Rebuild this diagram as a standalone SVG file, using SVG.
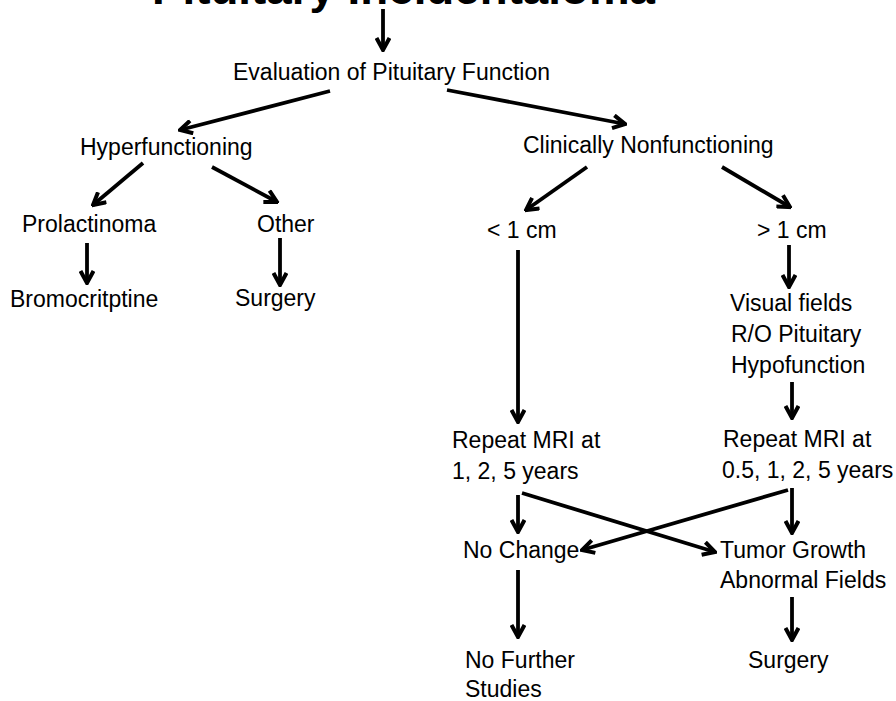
<svg xmlns="http://www.w3.org/2000/svg" width="896" height="701" viewBox="0 0 896 701">
<style>
  .t { font-family: "Liberation Sans", Arial, sans-serif; font-size: 23px; fill: #000; }
  .title { font-family: "Liberation Sans", Arial, sans-serif; font-size: 44px; font-weight: bold; fill: #000; }
  .c line { stroke: #000; stroke-width: 3.8; fill: none; marker-end: url(#ah); }
</style>
<defs>
  <marker id="ah" viewBox="0 0 16 16" refX="14" refY="8" markerWidth="16" markerHeight="16" markerUnits="userSpaceOnUse" orient="auto">
    <path d="M2,1.5 L14,8 L2,14.5" fill="none" stroke="#000" stroke-width="4" stroke-linejoin="miter" stroke-linecap="butt"/>
  </marker>
</defs>
<rect width="896" height="701" fill="#fff"/>
<g id="title"><text class="title" x="152" y="4" textLength="503" lengthAdjust="spacingAndGlyphs">Pituitary Incidentaloma</text></g>
<g id="evaluation"><text class="t" x="233" y="80">Evaluation of Pituitary Function</text></g>
<g id="hyper"><text class="t" x="80" y="155">Hyperfunctioning</text></g>
<g id="nonfunc"><text class="t" x="523" y="153">Clinically Nonfunctioning</text></g>
<g id="prolactinoma"><text class="t" x="22" y="232">Prolactinoma</text></g>
<g id="other"><text class="t" x="257" y="232">Other</text></g>
<g id="bromo"><text class="t" x="10" y="307">Bromocritptine</text></g>
<g id="surgery1"><text class="t" x="235" y="306">Surgery</text></g>
<g id="lt1"><text class="t" x="487" y="238">&lt; 1 cm</text></g>
<g id="gt1"><text class="t" x="757" y="238">&gt; 1 cm</text></g>
<g id="visual"><text class="t" x="730" y="311">Visual fields</text><text class="t" x="731" y="342">R/O Pituitary</text><text class="t" x="731" y="373">Hypofunction</text></g>
<g id="mri1"><text class="t" x="452" y="448">Repeat MRI at</text><text class="t" x="452" y="479">1, 2, 5 years</text></g>
<g id="mri2"><text class="t" x="723" y="447">Repeat MRI at</text><text class="t" x="722" y="478">0.5, 1, 2, 5 years</text></g>
<g id="nochange"><text class="t" x="463" y="558">No Change</text></g>
<g id="tumor"><text class="t" x="720" y="558">Tumor Growth</text><text class="t" x="720" y="588">Abnormal Fields</text></g>
<g id="nofurther"><text class="t" x="465" y="668">No Further</text><text class="t" x="465" y="697">Studies</text></g>
<g id="surgery2"><text class="t" x="748" y="668">Surgery</text></g>
<g id="connectors" class="c">
  <line x1="383" y1="9" x2="383" y2="50"/>
  <line x1="330" y1="91" x2="180" y2="130"/>
  <line x1="447" y1="90" x2="625" y2="124"/>
  <line x1="143" y1="163" x2="93" y2="205"/>
  <line x1="212" y1="167" x2="277" y2="202"/>
  <line x1="587" y1="167" x2="526" y2="210"/>
  <line x1="722" y1="167" x2="790" y2="207"/>
  <line x1="87" y1="243" x2="87" y2="283"/>
  <line x1="280" y1="238" x2="280" y2="285"/>
  <line x1="789" y1="245" x2="789" y2="287"/>
  <line x1="518" y1="250" x2="518" y2="422"/>
  <line x1="792" y1="382" x2="792" y2="418"/>
  <line x1="518" y1="495" x2="518" y2="532"/>
  <line x1="522" y1="493" x2="715" y2="552"/>
  <line x1="792" y1="488" x2="792" y2="533"/>
  <line x1="788" y1="490" x2="582" y2="550"/>
  <line x1="518" y1="570" x2="518" y2="637"/>
  <line x1="792" y1="597" x2="792" y2="640"/>
</g>
</svg>
